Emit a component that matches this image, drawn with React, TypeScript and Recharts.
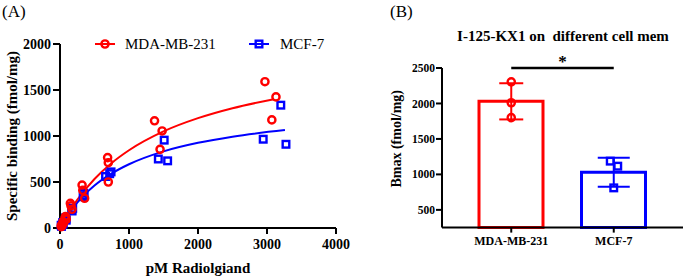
import React from 'react';
import {
  ComposedChart, Line, Scatter, Bar, Cell, XAxis, YAxis, ErrorBar, ReferenceLine, Label,
} from 'recharts';

const FONT = '"Liberation Serif", "Times New Roman", serif';
const RED = '#ff0000';
const BLUE = '#0000ff';

// (A) saturation binding, triplicates per concentration
const mdaConc = [2970, 3130, 3070, 1370, 1480, 1450, 690, 700, 700, 320, 330, 357, 150, 174, 160, 80, 90, 75, 45, 50, 40, 20, 25, 18];
const mdaBound = [1590, 1425, 1175, 1165, 1055, 855, 765, 710, 500, 467, 410, 323, 268, 203, 240, 125, 95, 110, 70, 55, 45, 30, 20, 15];
const mcfConc = [3200, 3275, 2945, 1510, 1425, 1560, 740, 660, 720, 343, 350, 335, 184, 175, 170, 85, 90, 80, 45, 42, 40, 20, 22, 18];
const mcfBound = [1335, 910, 965, 955, 750, 730, 610, 560, 590, 377, 350, 340, 214, 185, 195, 100, 85, 110, 50, 40, 60, 25, 18, 30];

// fitted curves
const mdaFitConc = [0, 100, 250, 500, 750, 1000, 1500, 2000, 2500, 3100];
const mdaFitBound = [0, 135, 307, 533, 707, 845, 1050, 1194, 1302, 1400];
const mcfFitConc = [0, 100, 250, 500, 750, 1000, 1500, 2000, 2500, 3260];
const mcfFitBound = [0, 125, 276, 461, 593, 693, 833, 926, 993, 1064];

const xTicksA = [0, 1000, 2000, 3000, 4000];
const yTicksA = [0, 500, 1000, 1500, 2000];

// (B) Bmax per cell line
const cellLines = ['MDA-MB-231', 'MCF-7'];
const bmaxMean = [2030, 1030];
const bmaxSd = [255, 205];
const mdaBmax = [2305, 2010, 1800];
const mcfBmax = [1187, 1116, 810];
const yTicksB = [500, 1000, 1500, 2000, 2500];

const zip = (xs: number[], ys: number[]) => xs.map((x, i) => ({ x, y: ys[i] }));

const RedCircle = (p: any) => (
  <circle cx={p.cx} cy={p.cy} r={3.6} fill="none" stroke={RED} strokeWidth={2.4} />
);
const BlueSquare = (p: any) => (
  <rect x={p.cx - 3.3} y={p.cy - 3.3} width={6.6} height={6.6} fill="none" stroke={BLUE} strokeWidth={2.4} />
);
const MCF_JITTER = [-3.5, 4, 0];
const BlueSquareJitter = (p: any) => {
  const i = mcfBmax.indexOf(p.payload?.v);
  return <BlueSquare cx={p.cx + (MCF_JITTER[i] || 0)} cy={p.cy} />;
};
const Nothing = () => <g />;

const tickA = { fill: '#000', fontSize: 14, fontWeight: 700, fontFamily: FONT };
const tickB = { fill: '#000', fontSize: 11.5, fontWeight: 700, fontFamily: FONT };
const axisLine = { stroke: '#000', strokeWidth: 2 };

const BindingChart = () => (
  <ComposedChart width={360} height={277} margin={{ top: 44, right: 24, bottom: 0, left: 0 }}>
    <XAxis
      type="number" dataKey="x" domain={[0, 4000]} ticks={xTicksA} height={49}
      tick={tickA} tickSize={6} tickMargin={5} axisLine={axisLine} tickLine={axisLine}
    >
      <Label value="pM Radiolgiand" position="insideBottom" offset={4}
        style={{ fontSize: 15, fontWeight: 700, fontFamily: FONT, fill: '#000' }} />
    </XAxis>
    <YAxis
      type="number" domain={[0, 2000]} ticks={yTicksA} width={60}
      tick={tickA} tickSize={7} tickMargin={2} axisLine={axisLine} tickLine={axisLine}
    >
      <Label value="Specific binding (fmol/mg)" angle={-90} position="insideLeft" offset={12}
        style={{ fontSize: 15, fontWeight: 700, fontFamily: FONT, fill: '#000', textAnchor: 'middle' }} />
    </YAxis>
    <Line data={zip(mcfFitConc, mcfFitBound)} dataKey="y" type="monotone" stroke={BLUE} strokeWidth={2} dot={false} isAnimationActive={false} />
    <Line data={zip(mdaFitConc, mdaFitBound)} dataKey="y" type="monotone" stroke={RED} strokeWidth={2} dot={false} isAnimationActive={false} />
    <Scatter data={zip(mcfConc, mcfBound)} dataKey="y" shape={BlueSquare} isAnimationActive={false} />
    <Scatter data={zip(mdaConc, mdaBound)} dataKey="y" shape={RedCircle} isAnimationActive={false} />
  </ComposedChart>
);

const BindingLegend = () => (
  <svg width={360} height={28} style={{ position: 'absolute', left: 0, top: 30 }}>
    <line x1={95} x2={115} y1={14} y2={14} stroke={RED} strokeWidth={2} />
    <RedCircle cx={105} cy={14} />
    <text x={125} y={19} fontSize={15} fontFamily={FONT}>MDA-MB-231</text>
    <line x1={249} x2={269} y1={14} y2={14} stroke={BLUE} strokeWidth={2} />
    <BlueSquare cx={259} cy={14} />
    <text x={280} y={19} fontSize={15} fontFamily={FONT}>MCF-7</text>
  </svg>
);

const BmaxChart = () => {
  const bars = cellLines.map((name, i) => ({ name, mean: bmaxMean[i], sd: bmaxSd[i] }));
  return (
    <ComposedChart width={325} height={277} data={bars} margin={{ top: 68, right: 2, bottom: 0, left: 0 }}>
      <XAxis
        dataKey="name" type="category" allowDuplicatedCategory={false} height={49.4}
        padding={{ left: 18, right: 18 }}
        tick={{ ...tickB, fontSize: 12 }} tickSize={5} tickMargin={4} axisLine={axisLine} tickLine={axisLine}
      />
      <YAxis
        type="number" domain={[250, 2500]} ticks={yTicksB} width={82}
        tick={tickB} tickSize={6} tickMargin={1} axisLine={axisLine} tickLine={axisLine}
      >
        <Label value="Bmax (fmol/mg)" angle={-90} position="insideLeft" offset={36} dy={-9}
          style={{ fontSize: 14, fontWeight: 700, fontFamily: FONT, fill: '#000', textAnchor: 'middle' }} />
      </YAxis>
      <Bar dataKey="mean" barSize={64} fill="none" strokeWidth={3} isAnimationActive={false}>
        {bars.map((b, i) => (
          <Cell key={b.name} stroke={i === 0 ? RED : BLUE} fill="none" />
        ))}
      </Bar>
      <Scatter data={[bars[0]]} dataKey="mean" shape={Nothing} isAnimationActive={false}>
        <ErrorBar dataKey="sd" direction="y" width={12} stroke={RED} strokeWidth={2} isAnimationActive={false} />
      </Scatter>
      <Scatter data={[bars[1]]} dataKey="mean" shape={Nothing} isAnimationActive={false}>
        <ErrorBar dataKey="sd" direction="y" width={16} stroke={BLUE} strokeWidth={2} isAnimationActive={false} />
      </Scatter>
      <Scatter data={mdaBmax.map((v) => ({ name: cellLines[0], v }))} dataKey="v" shape={RedCircle} isAnimationActive={false} />
      <Scatter data={mcfBmax.map((v) => ({ name: cellLines[1], v }))} dataKey="v" shape={BlueSquareJitter} isAnimationActive={false} />
      <ReferenceLine
        segment={[{ x: cellLines[0], y: 2500 }, { x: cellLines[1], y: 2500 }]}
        stroke="#000" strokeWidth={2.5} ifOverflow="visible"
      >
        <Label value="*" position="top" offset={1}
          style={{ fontSize: 17, fontWeight: 700, fontFamily: FONT, fill: '#000' }} />
      </ReferenceLine>
    </ComposedChart>
  );
};

export default function App() {
  return (
    <div style={{ position: 'absolute', left: 0, top: 0, width: 685, height: 277, background: '#fff', fontFamily: FONT }}>
      <div style={{ position: 'absolute', left: 2, top: 1, fontSize: 17, lineHeight: '22px' }}>(A)</div>
      <div style={{ position: 'absolute', left: 390, top: 1, fontSize: 17, lineHeight: '22px' }}>(B)</div>
      <div style={{ position: 'absolute', left: 0, top: 0 }}>
        <BindingChart />
      </div>
      <BindingLegend />
      <div style={{ position: 'absolute', left: 360, top: 0 }}>
        <BmaxChart />
      </div>
      <div style={{
        position: 'absolute', left: 440, top: 26, width: 246, textAlign: 'center',
        fontSize: 15, fontWeight: 700, lineHeight: '20px', whiteSpace: 'pre',
      }}>
        I-125-KX1 on  different cell mem
      </div>
    </div>
  );
}
